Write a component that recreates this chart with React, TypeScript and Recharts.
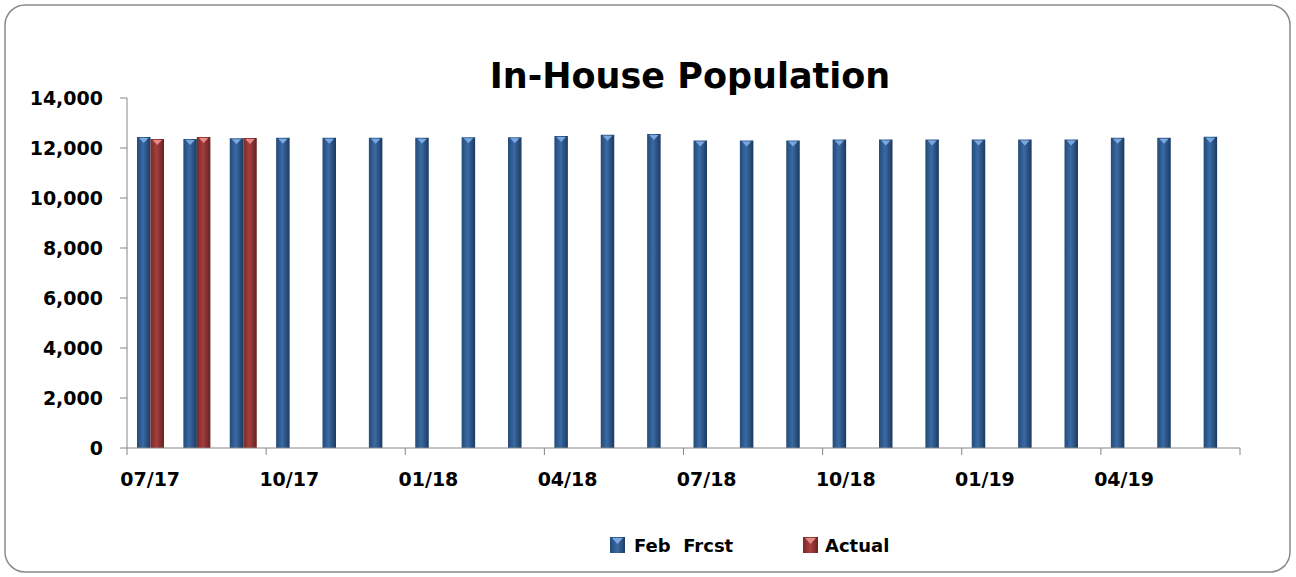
import { BarChart, Bar, XAxis, YAxis } from 'recharts';

const months = [
  '07/17', '08/17', '09/17', '10/17', '11/17', '12/17',
  '01/18', '02/18', '03/18', '04/18', '05/18', '06/18',
  '07/18', '08/18', '09/18', '10/18', '11/18', '12/18',
  '01/19', '02/19', '03/19', '04/19', '05/19', '06/19',
];

const febFrcst = [
  12440, 12360, 12390, 12410, 12410, 12410,
  12410, 12430, 12430, 12480, 12530, 12560,
  12300, 12300, 12300, 12340, 12340, 12340,
  12340, 12340, 12340, 12410, 12410, 12450,
];

const actual: (number | null)[] = [
  12360, 12440, 12400, null, null, null,
  null, null, null, null, null, null,
  null, null, null, null, null, null,
  null, null, null, null, null, null,
];

const yTicks = [0, 2000, 4000, 6000, 8000, 10000, 12000, 14000];

const data = months.map((m, i) => ({ month: m, frcst: febFrcst[i], actual: actual[i] }));

const W = 1296;
const H = 577;
const PLOT_LEFT = 127;
const PLOT_RIGHT = 1240;
const BAND = (PLOT_RIGHT - PLOT_LEFT) / months.length;
const FONT = '"DejaVu Sans", sans-serif';
const AXIS = '#868686';

const BevelBar = (props: any) => {
  const { x, y, width, height, fill } = props;
  if (height == null || height <= 0) return null;
  const light = fill === 'blue' ? '#7aa7e0' : '#e58a88';
  const grad = fill === 'blue' ? 'url(#gBlue)' : 'url(#gRed)';
  return (
    <g>
      <rect x={x} y={y} width={width} height={height} fill={grad} />
      <polygon
        points={`${x + 2},${y + 1} ${x + width - 2},${y + 1} ${x + width / 2},${y + 6}`}
        fill={light}
      />
    </g>
  );
};

const MonthTick = (props: any) => {
  const { x, y, payload } = props;
  const left = x - BAND / 2;
  const last = payload.index + 3 >= months.length;
  return (
    <g>
      <line x1={left} y1={y} x2={left} y2={y + 7} stroke={AXIS} />
      {last && <line x1={left + BAND * 3} y1={y} x2={left + BAND * 3} y2={y + 7} stroke={AXIS} />}
      <text x={x} y={y + 38} textAnchor="middle" fontFamily={FONT} fontWeight="bold" fontSize={19} fill="#000">
        {payload.value}
      </text>
    </g>
  );
};

export default function App() {
  return (
    <div style={{ position: 'absolute', left: 0, top: 0, width: W, height: H, background: '#fff' }}>
      <svg width={W} height={H} style={{ position: 'absolute', left: 0, top: 0 }}>
        <rect x={5} y={5} width={1285} height={567} rx={20} ry={20} fill="#fff" stroke="#8a8a8a" strokeWidth={1.5} />
        <text x={690} y={88} textAnchor="middle" fontFamily={FONT} fontWeight="bold" fontSize={35} fill="#000">
          In-House Population
        </text>
        <defs>
          <linearGradient id="lgBlue" x1="0" y1="0" x2="1" y2="0">
            <stop offset="0" stopColor="#244a78" />
            <stop offset="0.5" stopColor="#3a6aa3" />
            <stop offset="1" stopColor="#1d3c63" />
          </linearGradient>
          <linearGradient id="lgRed" x1="0" y1="0" x2="1" y2="0">
            <stop offset="0" stopColor="#7a2a29" />
            <stop offset="0.5" stopColor="#a8403e" />
            <stop offset="1" stopColor="#6a2322" />
          </linearGradient>
        </defs>
        <rect x={610} y={537} width={15} height={16} fill="url(#lgBlue)" />
        <polygon points="612,538 623,538 617.5,544" fill="#7aa7e0" />
        <text x={634} y={552} fontFamily={FONT} fontWeight="bold" fontSize={18} fill="#000" style={{ whiteSpace: 'pre' }}>
          {'Feb  Frcst'}
        </text>
        <rect x={803} y={537} width={15} height={16} fill="url(#lgRed)" />
        <polygon points="805,538 816,538 810.5,544" fill="#e58a88" />
        <text x={825} y={552} fontFamily={FONT} fontWeight="bold" fontSize={18} fill="#000">
          Actual
        </text>
      </svg>
      <div style={{ position: 'absolute', left: 0, top: 0 }}>
        <BarChart
          width={W}
          height={H}
          data={data}
          margin={{ top: 98, right: W - PLOT_RIGHT, bottom: 79, left: PLOT_LEFT - 100 }}
          barSize={13.5}
          barGap={0}
        >
          <defs>
            <linearGradient id="gBlue" x1="0" y1="0" x2="1" y2="0">
              <stop offset="0" stopColor="#244a78" />
              <stop offset="0.45" stopColor="#3a6aa3" />
              <stop offset="1" stopColor="#1b3a60" />
            </linearGradient>
            <linearGradient id="gRed" x1="0" y1="0" x2="1" y2="0">
              <stop offset="0" stopColor="#7a2a29" />
              <stop offset="0.45" stopColor="#a43f3d" />
              <stop offset="1" stopColor="#652120" />
            </linearGradient>
          </defs>
          <XAxis
            dataKey="month"
            interval={2}
            height={50}
            axisLine={{ stroke: AXIS }}
            tickLine={false}
            tickSize={0}
            tickMargin={0}
            tick={<MonthTick />}
          />
          <YAxis
            width={100}
            domain={[0, 14000]}
            ticks={yTicks}
            axisLine={{ stroke: AXIS }}
            tickLine={{ stroke: AXIS }}
            tickSize={7}
            tickMargin={17}
            tickFormatter={(v: number) => v.toLocaleString('en-US')}
            tick={{ fontFamily: FONT, fontWeight: 'bold', fontSize: 19, fill: '#000' }}
          />
          <Bar dataKey="frcst" name="Feb  Frcst" fill="blue" shape={<BevelBar />} isAnimationActive={false} />
          <Bar dataKey="actual" name="Actual" fill="red" shape={<BevelBar />} isAnimationActive={false} />
        </BarChart>
      </div>
    </div>
  );
}
